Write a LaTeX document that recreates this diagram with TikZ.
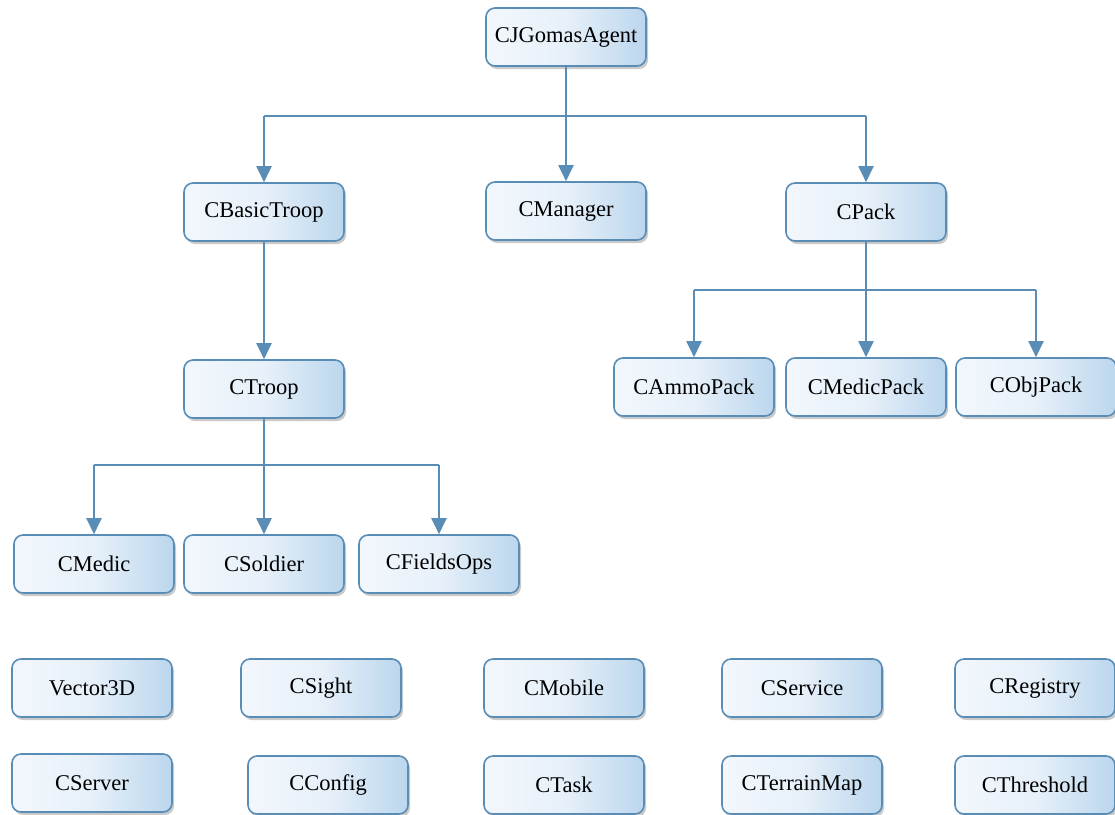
\documentclass[tikz,border=0pt]{standalone}
\usepackage{fontspec}
\setmainfont{Liberation Serif}
\usetikzlibrary{arrows.meta,shadows}
\definecolor{edgeblue}{HTML}{5A8DB6}
\definecolor{fillL}{HTML}{F2F7FC}
\definecolor{fillR}{HTML}{BBD6EE}
\tikzset{
  cls/.style={rounded corners=9pt, draw=edgeblue, line width=1.6pt,
    left color=fillL, right color=fillR, middle color=fillL!80!fillR,
    minimum width=160pt, minimum height=58pt, inner sep=0pt,
    font=\fontsize{22.5}{26}\selectfont,
    drop shadow={shadow xshift=2pt, shadow yshift=-3pt, opacity=0.35, fill=black!60}},
  link/.style={draw=edgeblue, line width=2pt},
  arr/.style={link, -{Triangle[width=15pt,length=16pt]}}
}
\begin{document}
\begin{tikzpicture}[x=1pt,y=-1pt]
\useasboundingbox (0,0) rectangle (1115,814);
% hierarchy
\node[cls] (agent)   at (566,37)  {CJGomasAgent};
\node[cls] (basic)   at (264,212) {CBasicTroop};
\node[cls] (manager) at (566,211) {CManager};
\node[cls] (pack)    at (866,212) {CPack};
\node[cls] (troop)   at (264,389) {CTroop};
\node[cls] (ammo)    at (694,387) {CAmmoPack};
\node[cls] (medpack) at (866,387) {CMedicPack};
\node[cls] (objpack) at (1036,387) {CObjPack};
\node[cls] (medic)   at (94,564)  {CMedic};
\node[cls] (soldier) at (264,564) {CSoldier};
\node[cls] (fields)  at (439,564) {CFieldsOps};
% standalone classes
\node[cls] (vec)     at (92,688)  {Vector3D};
\node[cls] (sight)   at (321,688) {CSight};
\node[cls] (mobile)  at (564,688) {CMobile};
\node[cls] (service) at (802,688) {CService};
\node[cls] (registry) at (1035,688) {CRegistry};
\node[cls] (server)  at (92,783)  {CServer};
\node[cls] (config)  at (328,785) {CConfig};
\node[cls] (task)    at (564,785) {CTask};
\node[cls] (terrain) at (802,785) {CTerrainMap};
\node[cls] (thresh)  at (1035,785) {CThreshold};
% junction rails
\coordinate (r1) at (566,116);
\coordinate (r2) at (866,290);
\coordinate (r3) at (264,465);
% CJGomasAgent children
\draw[arr] (agent.south) -- (manager.north);
\draw[link] (basic.north |- r1) -- (pack.north |- r1);
\draw[arr] (basic.north |- r1) -- (basic.north);
\draw[arr] (pack.north |- r1) -- (pack.north);
% CBasicTroop -> CTroop
\draw[arr] (basic.south) -- (troop.north);
% CPack children
\draw[link] (pack.south) -- (r2);
\draw[link] (ammo.north |- r2) -- (objpack.north |- r2);
\draw[arr] (ammo.north |- r2) -- (ammo.north);
\draw[arr] (r2) -- (medpack.north);
\draw[arr] (objpack.north |- r2) -- (objpack.north);
% CTroop children
\draw[link] (troop.south) -- (r3);
\draw[link] (medic.north |- r3) -- (fields.north |- r3);
\draw[arr] (medic.north |- r3) -- (medic.north);
\draw[arr] (r3) -- (soldier.north);
\draw[arr] (fields.north |- r3) -- (fields.north);
\end{tikzpicture}
\end{document}
